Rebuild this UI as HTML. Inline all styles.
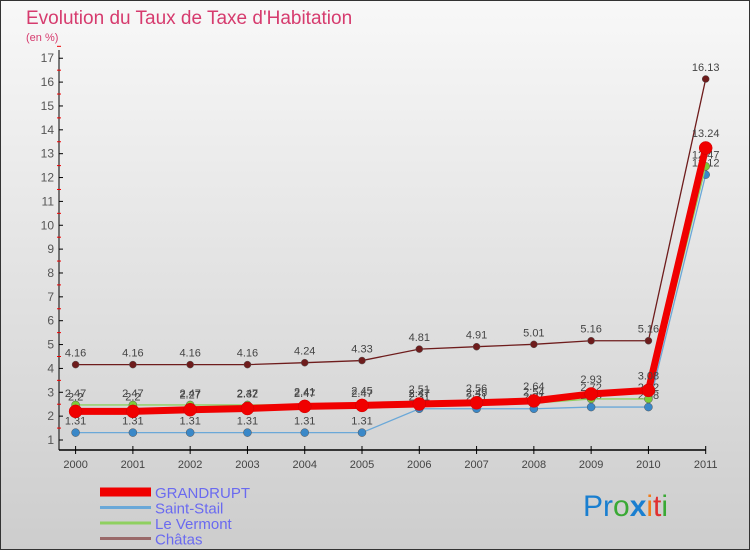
<!DOCTYPE html>
<html><head><meta charset="utf-8"><style>
body{margin:0;width:750px;height:550px;overflow:hidden}
svg{display:block;font-family:"Liberation Sans",sans-serif}
</style></head><body>
<svg width="750" height="550" viewBox="0 0 750 550">
<defs><linearGradient id="bg" x1="0" y1="0" x2="0" y2="1"><stop offset="0" stop-color="#f8f8f8"/><stop offset="1" stop-color="#cdcdcd"/></linearGradient></defs>
<rect x="0.5" y="0.5" width="749" height="549" fill="url(#bg)" stroke="#333"/>
<text x="26" y="24" font-size="19" fill="#d63b6e">Evolution du Taux de Taxe d'Habitation</text>
<text x="26" y="41" font-size="11" fill="#d63b6e">(en %)</text>
<g id="axes"></g><g id="series"></g><g id="legend"></g>
<text x="583" y="516" font-size="30"><tspan fill="#1a7fd0">Pr</tspan><tspan fill="#3aa935">o</tspan><tspan fill="#1a7fd0" font-weight="bold">x</tspan><tspan fill="#f07d1a">i</tspan><tspan fill="#e03030">t</tspan><tspan fill="#3aa935">i</tspan></text>
</svg>
<script>
const years=["2000","2001","2002","2003","2004","2005","2006","2007","2008","2009","2010","2011"];
const yTicks=[1,2,3,4,5,6,7,8,9,10,11,12,13,14,15,16,17];
const grandrupt=[2.2,2.2,2.27,2.32,2.41,2.45,2.51,2.56,2.64,2.93,3.08,13.24];
const saintStail=[1.31,1.31,1.31,1.31,1.31,1.31,2.31,2.31,2.31,2.38,2.38,12.12];
const leVermont=[2.47,2.47,2.47,2.47,2.47,2.47,2.47,2.49,2.54,2.72,2.72,12.47];
const chatas=[4.16,4.16,4.16,4.16,4.24,4.33,4.81,4.91,5.01,5.16,5.16,16.13];
const NS="http://www.w3.org/2000/svg";
const X=i=>75.6+i*(705.7-75.6)/11;
const Y=v=>440-(v-1)*23.86;
function mk(p,t,a){const e=document.createElementNS(NS,t);for(const k in a)e.setAttribute(k,a[k]);p.appendChild(e);return e;}
const ax=document.getElementById('axes');
let e=mk(ax,'line',{x1:59,y1:50,x2:59,y2:450,stroke:'#000'});


e=mk(ax,'line',{x1:59,y1:450,x2:706,y2:450,stroke:'#000','stroke-width':1.5});


yTicks.forEach(v=>{
 mk(ax,'line',{x1:59,y1:Y(v),x2:63,y2:Y(v),stroke:'#000'});
 mk(ax,'line',{x1:57,y1:Y(v+0.5),x2:61,y2:Y(v+0.5),stroke:'#e00'});
 const t=mk(ax,'text',{x:54,y:Y(v)+4,'font-size':12,fill:'#555','text-anchor':'end'});t.textContent=v;
 
 
});
years.forEach((y,i)=>{
 mk(ax,'line',{x1:X(i),y1:446,x2:X(i),y2:454,stroke:'#000'});
 const t=mk(ax,'text',{x:X(i),y:468,'font-size':11,fill:'#444','text-anchor':'middle'});t.textContent=y;
 
 
});
const S=[
 {n:'chatas',d:chatas,c:'#6e1c1c',w:1.3,r:3.5,f:'#6e1c1c',lab:'Châtas',lc:'#9a6a6a'},
 {n:'saint-stail',d:saintStail,c:'#6aa8d8',w:1.3,r:4,f:'#3a88c8',lab:'Saint-Stail',lc:'#6aa8d8'},
 {n:'le-vermont',d:leVermont,c:'#8fd060',w:1.3,r:4,f:'#7ccc3a',lab:'Le Vermont',lc:'#8fd060'},
 {n:'grandrupt',d:grandrupt,c:'#f00000',w:7,r:6.5,f:'#f00000',lab:'GRANDRUPT',lc:'#f00000'}];
const sg=document.getElementById('series');
S.forEach(s=>{
 const g=mk(sg,'g',{});
 
 
 mk(g,'polyline',{points:s.d.map((v,i)=>X(i)+','+Y(v)).join(' '),fill:'none',stroke:s.c,'stroke-width':s.w});
 s.d.forEach((v,i)=>{
  const c=mk(g,'circle',{cx:X(i),cy:Y(v),r:s.r,fill:s.f,stroke:s.n=='grandrupt'?'#c00':'#555','stroke-width':0.5});
  
  
  const t=mk(g,'text',{x:X(i),y:Y(v)-(s.n=='grandrupt'?11:8),'font-size':11,fill:'#444','text-anchor':'middle'});t.textContent=v;
  
  
 });
});
const lg=document.getElementById('legend');
[S[3],S[1],S[2],S[0]].forEach((s,k)=>{
 const y=492+k*15.5;
 const g=mk(lg,'g',{});
 
 
 mk(g,'line',{x1:100,y1:y,x2:151,y2:y,stroke:s.lc,'stroke-width':s.n=='grandrupt'?9:3});
 const t=mk(g,'text',{x:155,y:y+6,'font-size':15,fill:'#6a6af0'});t.textContent=s.lab;
});
</script>
</body></html>
